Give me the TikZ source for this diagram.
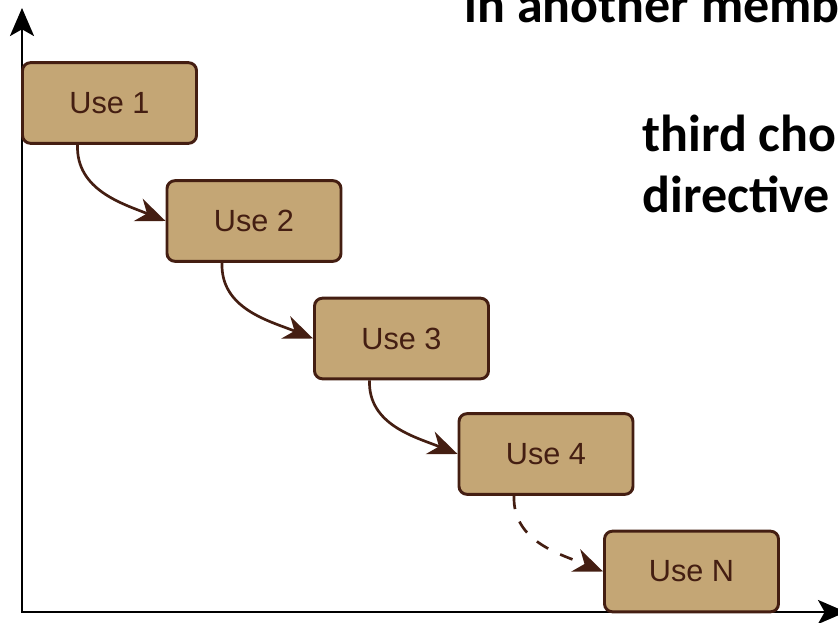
\documentclass[tikz,border=0pt]{standalone}
\usepackage{fontspec}
\setmainfont{Liberation Sans}
\newfontfamily\notefont{Carlito}
\usetikzlibrary{arrows.meta}
\definecolor{boxfill}{RGB}{196,166,117}
\definecolor{boxline}{RGB}{68,30,18}

\begin{document}
\begin{tikzpicture}[x=0.75pt, y=0.75pt,
  usebox/.style={draw=boxline, line width=2.2pt, fill=boxfill, rounded corners=6pt,
    minimum width=130.5pt, minimum height=60.5pt, inner sep=0pt, text=boxline,
    font=\fontsize{23}{26}\selectfont},
  flow/.style={-{Stealth[length=22pt, width=18pt, inset=7pt]}, draw=boxline, line width=2pt},
  note/.style={anchor=base west, font=\notefont\bfseries\fontsize{39}{46}\selectfont}]
  \useasboundingbox (0,0) rectangle (838,623);
  \clip (0,0) rectangle (838,623);
  % axes
  \coordinate (o) at (22,11);
  \coordinate (ytop) at (22,615);
  \coordinate (xend) at (846,11);
  \draw[line width=2pt, {Stealth[length=21pt, width=18pt, inset=5pt]}-{Stealth[length=21pt, width=18pt, inset=5pt]}] (ytop) -- (o) -- (xend);
  % text behind the figure
  \node[note] (t1) at (460,600) {in another member};
  \node[note] (t2) at (638,471) {third choice};
  \node[note] (t3) at (638,410) {directive};
  % uses
  \node[usebox] (u1) at (109.5,520) {Use 1};
  \node[usebox] (u2) at (254,402) {Use 2};
  \node[usebox] (u3) at (401.5,284.5) {Use 3};
  \node[usebox] (u4) at (546,169) {Use 4};
  \node[usebox] (un) at (691.5,51.5) {Use N};
  % arrows
  \draw[flow] ([xshift=-24pt]u1.south) to[out=-92, in=158] (u2.west);
  \draw[flow] ([xshift=-24pt]u2.south) to[out=-92, in=158] (u3.west);
  \draw[flow] ([xshift=-24pt]u3.south) to[out=-92, in=158] (u4.west);
  \draw[flow, dash pattern=on 10pt off 10pt] ([xshift=-24pt]u4.south) to[out=-92, in=158] (un.west);
\end{tikzpicture}
\end{document}
